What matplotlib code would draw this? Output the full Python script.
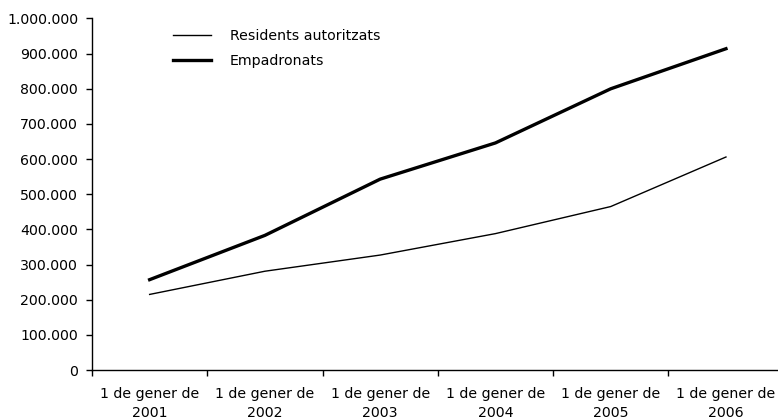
import matplotlib
matplotlib.use("Agg")
import matplotlib.pyplot as plt
from matplotlib.ticker import FuncFormatter, FixedLocator

years = ["2001", "2002", "2003", "2004", "2005", "2006"]
tick_labels = ["1 de gener de\n" + y for y in years]
residents = [215000, 281000, 327000, 388000, 465000, 606000]
empadronats = [257000, 383000, 543000, 646000, 800000, 914000]

plt.rcParams['font.family'] = ['DejaVu Sans']
plt.rcParams['font.size'] = 10.2

fig = plt.figure(figsize=(7.78, 4.19), dpi=100)
ax = fig.add_axes([92/778, 1-370/419, 691.6/778, 351.5/419])
x = list(range(len(years)))
ax.plot(x, residents, color='black', lw=1.0, label='Residents autoritzats', solid_joinstyle='round')
ax.plot(x, empadronats, color='black', lw=2.4, label='Empadronats', solid_joinstyle='round')

ax.set_xlim(-0.5, len(years) - 0.5)
ax.set_ylim(0, 1000000)
ax.set_yticks(range(0, 1000001, 100000))
ax.yaxis.set_major_formatter(FuncFormatter(lambda v, p: f"{int(v):,}".replace(",", ".")))
ax.xaxis.set_major_locator(FixedLocator([i - 0.5 for i in range(len(years) + 1)]))
ax.xaxis.set_major_formatter(FuncFormatter(lambda v, p: ""))
ax.xaxis.set_minor_locator(FixedLocator(x))
ax.set_xticklabels(tick_labels, minor=True)
ax.tick_params(axis='x', which='minor', length=0, pad=12)
ax.tick_params(axis='x', which='major', length=4, width=1, direction='out')
ax.tick_params(axis='y', length=4, width=1, direction='out', pad=6)
for lab in ax.get_xticklabels(minor=True):
    lab.set_linespacing(1.45)
for s in ['top', 'right']:
    ax.spines[s].set_visible(False)
for s in ['left', 'bottom']:
    ax.spines[s].set_linewidth(1.0)

ax.legend(loc='upper left', bbox_to_anchor=(173/778, 1-29/419), bbox_transform=fig.transFigure,
          frameon=False, handlelength=2.7, handletextpad=1.3, labelspacing=0.75, borderpad=0,
          borderaxespad=0)

fig.savefig("out.png", dpi=100)
